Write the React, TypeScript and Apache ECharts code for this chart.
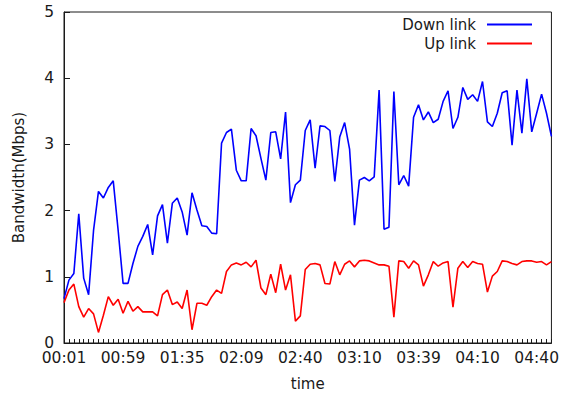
import React, { useEffect, useRef } from "react";
import * as echarts from "echarts";

// Tick labels shown along the time axis (one every LABEL_EVERY samples)
const TIME_LABELS = ["00:01", "00:59", "01:35", "02:09", "02:40", "03:10", "03:39", "04:10", "04:40"];
const LABEL_EVERY = 12;

// Measured bandwidth per sample, Mbps
const DOWN_LINK = [
  0.67, 0.95, 1.05, 1.95, 0.98, 0.73, 1.70, 2.29, 2.19, 2.35,
  2.45, 1.70, 0.90, 0.90, 1.20, 1.46, 1.61, 1.79, 1.33, 1.92,
  2.09, 1.51, 2.11, 2.19, 1.98, 1.63, 2.27, 2.01, 1.77, 1.76,
  1.66, 1.65, 3.02, 3.18, 3.23, 2.61, 2.45, 2.45, 3.24, 3.13,
  2.79, 2.46, 3.18, 3.19, 2.78, 3.49, 2.12, 2.39, 2.46, 3.21,
  3.37, 2.64, 3.28, 3.27, 3.21, 2.44, 3.11, 3.33, 2.93, 1.78,
  2.46, 2.50, 2.45, 2.51, 3.82, 1.72, 1.75, 3.80, 2.39, 2.53,
  2.37, 3.41, 3.60, 3.37, 3.49, 3.33, 3.38, 3.65, 3.81, 3.24,
  3.41, 3.86, 3.68, 3.75, 3.65, 3.95, 3.34, 3.27, 3.47, 3.78,
  3.81, 2.99, 3.82, 3.17, 3.99, 3.19, 3.47, 3.76, 3.47, 3.12,
];

const UP_LINK = [
  0.61, 0.80, 0.89, 0.55, 0.39, 0.52, 0.44, 0.16, 0.42, 0.70,
  0.57, 0.66, 0.45, 0.63, 0.48, 0.55, 0.47, 0.47, 0.47, 0.41,
  0.73, 0.80, 0.58, 0.62, 0.52, 0.80, 0.20, 0.60, 0.60, 0.57,
  0.70, 0.80, 0.75, 1.08, 1.18, 1.21, 1.18, 1.22, 1.15, 1.25,
  0.83, 0.73, 1.04, 0.76, 1.19, 0.80, 1.03, 0.33, 0.41, 1.11,
  1.19, 1.20, 1.18, 0.90, 0.89, 1.23, 1.03, 1.19, 1.24, 1.15,
  1.24, 1.25, 1.24, 1.21, 1.18, 1.18, 1.16, 0.39, 1.24, 1.23,
  1.13, 1.24, 1.18, 0.86, 1.03, 1.23, 1.16, 1.21, 1.23, 0.54,
  1.13, 1.23, 1.14, 1.23, 1.20, 1.19, 0.77, 1.01, 1.08, 1.24,
  1.23, 1.20, 1.18, 1.23, 1.24, 1.24, 1.22, 1.23, 1.18, 1.23,
];

const SAMPLES = DOWN_LINK.map((_, i) => String(i));

const FONT = "DejaVu Sans";
const INK = "#1a1a1a";

export default function App() {
  const ref = useRef<HTMLDivElement>(null);

  useEffect(() => {
    if (!ref.current) return;
    const chart = echarts.init(ref.current, null, { renderer: "svg" });
    chart.setOption({
      animation: false,
      backgroundColor: "#ffffff",
      textStyle: { fontFamily: FONT, color: INK },
      grid: {
        left: 64,
        right: 10.5,
        top: 12,
        bottom: 53,
        show: true,
        borderColor: INK,
        borderWidth: 1,
        backgroundColor: "transparent",
      },
      legend: {
        right: 25,
        top: 12,
        orient: "vertical",
        align: "right",
        itemGap: 4,
        itemWidth: 45,
        itemHeight: 2,
        icon: "rect",
        textStyle: {
          fontFamily: FONT,
          fontSize: 15,
          lineHeight: 12,
          color: INK,
          width: 84,
          align: "right",
          padding: [0, 6, 0, 0],
        },
        data: ["Down link", "Up link"],
      },
      xAxis: {
        type: "category",
        data: SAMPLES,
        boundaryGap: false,
        name: "time",
        nameLocation: "middle",
        nameGap: 33,
        nameTextStyle: { fontFamily: FONT, fontSize: 15, color: INK },
        axisLine: { show: true, lineStyle: { color: INK, width: 1 } },
        axisTick: { show: true, inside: true, length: 4, interval: 0, lineStyle: { color: INK } },
        axisLabel: {
          interval: LABEL_EVERY - 1,
          margin: 9,
          fontFamily: FONT,
          fontSize: 15.5,
          lineHeight: 11,
          color: INK,
          formatter: (_v: string, idx: number) => TIME_LABELS[idx / LABEL_EVERY] ?? "",
        },
        splitLine: { show: false },
      },
      yAxis: {
        type: "value",
        min: 0,
        max: 5,
        interval: 1,
        name: "Bandwidth(Mbps)",
        nameLocation: "middle",
        nameGap: 38,
        nameTextStyle: { fontFamily: FONT, fontSize: 15, color: INK },
        axisLine: { show: true, lineStyle: { color: INK, width: 1 } },
        axisTick: { show: true, inside: true, length: 6, lineStyle: { color: INK } },
        axisLabel: { margin: 10, fontFamily: FONT, fontSize: 15.5, lineHeight: 10, color: INK },
        splitLine: { show: false },
      },
      series: [
        {
          name: "Down link",
          type: "line",
          data: DOWN_LINK,
          showSymbol: false,
          symbol: "none",
          color: "#0000ff",
          lineStyle: { color: "#0000ff", width: 1.6 },
        },
        {
          name: "Up link",
          type: "line",
          data: UP_LINK,
          showSymbol: false,
          symbol: "none",
          color: "#ff0000",
          lineStyle: { color: "#ff0000", width: 1.6 },
        },
      ],
    });
    return () => chart.dispose();
  }, []);

  return <div ref={ref} style={{ width: 562, height: 396, position: "absolute", left: 0, top: 0 }} />;
}
